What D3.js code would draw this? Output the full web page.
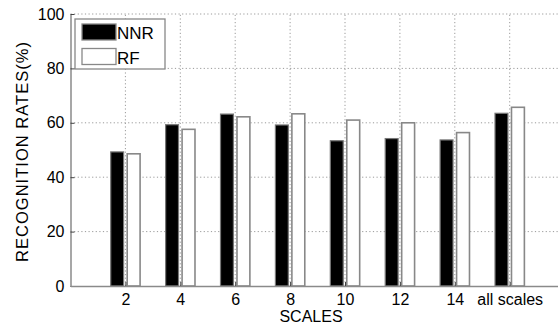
<!DOCTYPE html>
<html><head><meta charset="utf-8">
<script src="https://cdn.jsdelivr.net/npm/d3@7"></script>
<style>
  body { margin: 0; background: #fff; }
  text { font-family: "Liberation Sans", Arial, sans-serif; fill: #000; }
</style>
</head><body>
<svg id="chart" width="558" height="335"></svg>
<script>
// Recognition rates per scale for the two classifiers
const scales = [2, 4, 6, 8, 10, 12, 14, 16];
const scaleLabels = ["2", "4", "6", "8", "10", "12", "14", "all scales"];
const nnrRates = [49.3, 59.3, 63.2, 59.2, 53.4, 54.2, 53.7, 63.5];
const rfRates = [48.6, 57.6, 62.2, 63.3, 61.0, 60.0, 56.4, 65.7];
const seriesNames = ["NNR", "RF"];
const yTicks = [0, 20, 40, 60, 80, 100];

const svg = d3.select("#chart");
const W = 558, H = 335;
const x = d3.scaleLinear().domain([0, 18]).range([70.5, 564.6]);
const y = d3.scaleLinear().domain([0, 100]).range([286, 14]);
const gridColor = "#9a9a9a";
const axisColor = "#8a8a8a";

// dotted grid
const grid = svg.append("g");
grid.selectAll("line.h").data(yTicks.filter(d => d > 0)).join("line")
  .attr("x1", x(0)).attr("x2", W)
  .attr("y1", d => y(d)).attr("y2", d => y(d))
  .attr("stroke", gridColor).attr("stroke-width", 1).attr("stroke-dasharray", "1.2,2.4");
grid.selectAll("line.v").data(scales).join("line")
  .attr("x1", d => x(d)).attr("x2", d => x(d))
  .attr("y1", y(0)).attr("y2", y(100))
  .attr("stroke", gridColor).attr("stroke-width", 1).attr("stroke-dasharray", "1.2,2.4");

// grouped bars
const bw = x(0.47) - x(0);
const rows = scales.map((s, i) => ({ s, nnr: nnrRates[i], rf: rfRates[i] }));
const bars = svg.append("g");
bars.selectAll("rect.nnr").data(rows).join("rect")
  .attr("x", d => x(d.s - 0.535)).attr("width", bw)
  .attr("y", d => y(d.nnr)).attr("height", d => y(0) - y(d.nnr))
  .attr("fill", "#000").attr("stroke", "#777").attr("stroke-width", 1.2);
bars.selectAll("rect.rf").data(rows).join("rect")
  .attr("x", d => x(d.s + 0.065)).attr("width", bw)
  .attr("y", d => y(d.rf)).attr("height", d => y(0) - y(d.rf))
  .attr("fill", "#fff").attr("stroke", "#888").attr("stroke-width", 1.6);

// axes
const yAxis = svg.append("g").attr("transform", `translate(${x(0)},0)`)
  .call(d3.axisLeft(y).tickValues(yTicks).tickSize(0).tickPadding(6).tickSizeOuter(0));
yAxis.select(".domain").attr("stroke", axisColor).attr("stroke-width", 1.5);
yAxis.selectAll("text").attr("font-size", 16).attr("font-family", "Liberation Sans, Arial, sans-serif").attr("fill", "#000");
yAxis.selectAll(".tick").append("line").attr("x1", 0).attr("x2", 4).attr("stroke", "#444").attr("stroke-width", 1);

const xAxis = svg.append("g").attr("transform", `translate(0,${y(0)})`)
  .call(d3.axisBottom(x).tickValues(scales).tickFormat((d, i) => scaleLabels[i]).tickSize(0).tickPadding(8).tickSizeOuter(0));
xAxis.select(".domain").attr("stroke", axisColor).attr("stroke-width", 1.5);
xAxis.selectAll("text").attr("font-size", 16).attr("font-family", "Liberation Sans, Arial, sans-serif").attr("fill", "#000");
xAxis.selectAll(".tick").append("line").attr("y1", 0).attr("y2", -4).attr("stroke", "#444").attr("stroke-width", 1);

// axis titles
svg.append("text").attr("x", 311).attr("y", 322).attr("text-anchor", "middle")
  .attr("font-size", 16).text("SCALES");
svg.append("text").attr("transform", "translate(28,152) rotate(-90)")
  .attr("text-anchor", "middle").attr("font-size", 16.5)
  .attr("textLength", 220).attr("lengthAdjust", "spacing")
  .text("RECOGNITION RATES(%)");

// legend
const lg = svg.append("g");
lg.append("rect").attr("x", 75).attr("y", 19).attr("width", 90).attr("height", 50)
  .attr("fill", "#fff").attr("stroke", "#888").attr("stroke-width", 1.3);
const fills = ["#000", "#fff"];
seriesNames.forEach((name, i) => {
  lg.append("rect").attr("x", 82).attr("y", 24 + i * 24.5).attr("width", 34).attr("height", 16)
    .attr("fill", fills[i]).attr("stroke", "#888").attr("stroke-width", 1.3);
  lg.append("text").attr("x", 117).attr("y", 39 + i * 24.5).attr("font-size", 17).text(name);
});
</script>
</body></html>
